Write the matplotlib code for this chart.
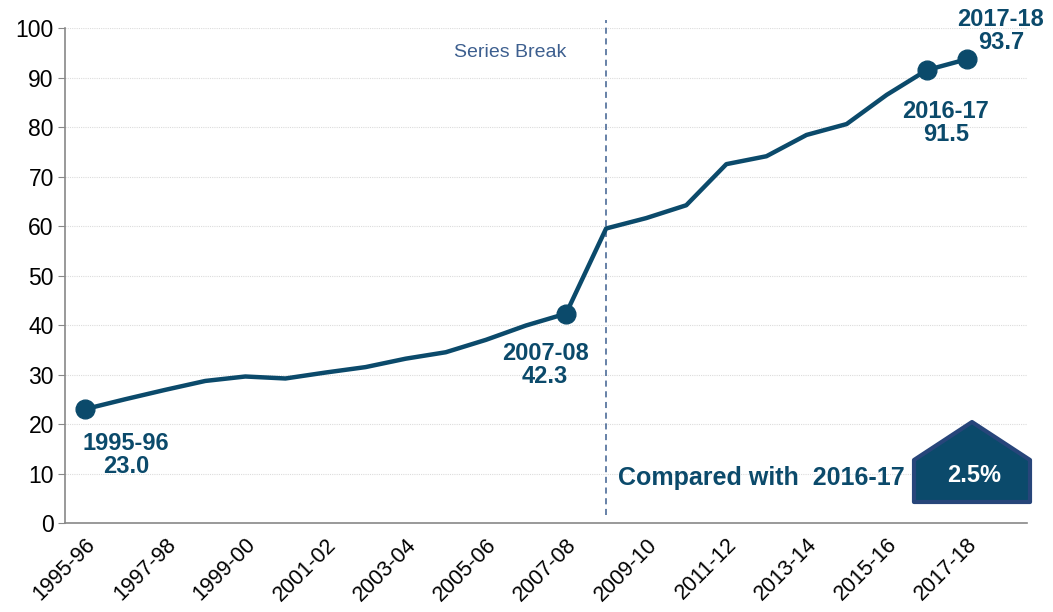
import matplotlib.pyplot as plt
from matplotlib.patches import Polygon

plt.rcParams['font.family'] = ['Liberation Sans', 'DejaVu Sans']

years = ['1995-96', '1996-97', '1997-98', '1998-99', '1999-00', '2000-01',
         '2001-02', '2002-03', '2003-04', '2004-05', '2005-06', '2006-07',
         '2007-08', '2008-09', '2009-10', '2010-11', '2011-12', '2012-13',
         '2013-14', '2014-15', '2015-16', '2016-17', '2017-18']
values = [23.0, 25.0, 26.9, 28.7, 29.6, 29.2, 30.4, 31.5, 33.2, 34.5, 37.0,
          39.9, 42.3, 59.5, 61.6, 64.2, 72.5, 74.1, 78.4, 80.6, 86.5, 91.5, 93.7]
marked = ['1995-96', '2007-08', '2016-17', '2017-18']
label_offsets = [(41, -46), (-21, -51), (19, -53), (34, 28)]  # pixels
break_year = '2008-09'
change_text = '2.5%'
compare_text = 'Compared with  2016-17'

navy = '#0b4a6b'
break_col = '#3d5f8f'

fig = plt.figure(figsize=(10.53, 6.12), dpi=100)
ax = fig.add_axes([0.0617, 0.1454, 0.9136, 0.8088])

x = list(range(len(years)))
ax.plot(x, values, color=navy, lw=3.2, solid_joinstyle='round', zorder=3)

for yr, off in zip(marked, label_offsets):
    i = years.index(yr)
    ax.plot(x[i], values[i], 'o', color=navy, ms=13.5, zorder=4)
    ax.annotate('%s\n%.1f' % (yr, values[i]), (x[i], values[i]),
                xytext=off, textcoords='offset pixels', ha='center', va='center',
                fontsize=17, fontweight='bold', color=navy, linespacing=1.0)

ax.set_xlim(-0.5, 23.5)
ax.set_ylim(0, 100)
ax.set_yticks(range(0, 101, 10))
ax.set_xticks(x[::2])
ax.set_xticklabels(years[::2], rotation=45, ha='right', rotation_mode='anchor')
ax.tick_params(axis='y', labelsize=16.5, length=5, color='#888888', pad=3)
ax.tick_params(axis='x', labelsize=15.5, length=0, pad=8)
ax.grid(axis='y', color='#dcdcdc', lw=0.8, ls=(0, (1, 1)))
ax.set_axisbelow(True)
for s in ['top', 'right']:
    ax.spines[s].set_visible(False)
for s in ['left', 'bottom']:
    ax.spines[s].set_color('#888888')
    ax.spines[s].set_linewidth(1.2)

# series break
bx = years.index(break_year)
ax.axvline(bx, ymin=0.016, ymax=1.016, color=break_col, lw=1.1,
           ls=(0, (4, 3)), clip_on=False)
ax.text(bx - 2.4, 95, 'Series Break', ha='center', va='center',
        fontsize=14, color=break_col)

# change box
fig.text(618 / 1053, 1 - 478 / 612, compare_text, ha='left', va='center',
         fontsize=18, fontweight='bold', color=navy)
pts = [(914, 460), (972, 422), (1030, 460), (1030, 502), (914, 502)]
poly = Polygon([(px / 1053, 1 - py / 612) for px, py in pts], closed=True,
               transform=fig.transFigure, facecolor=navy, edgecolor='#27457a',
               lw=3, joinstyle='round')
fig.patches.append(poly)
fig.text(974 / 1053, 1 - 475 / 612, change_text, ha='center', va='center',
         fontsize=17, fontweight='bold', color='white')

fig.savefig('out.png', dpi=100)
